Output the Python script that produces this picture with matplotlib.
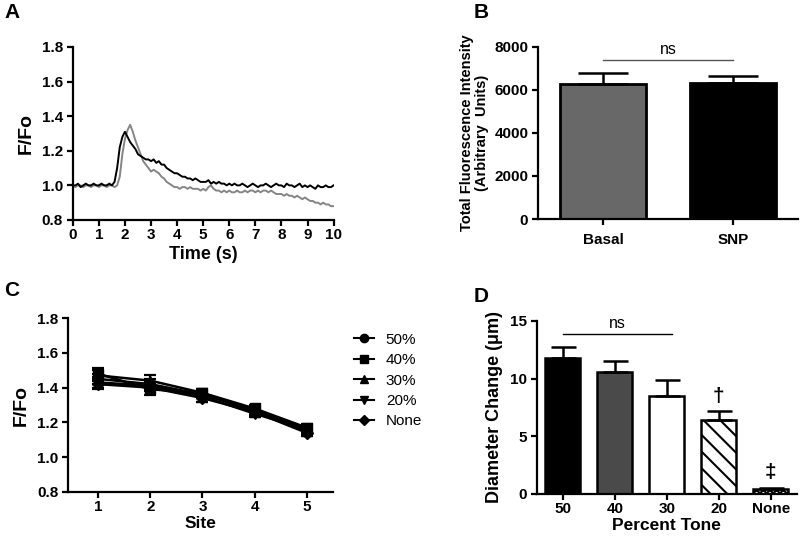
import numpy as np
import matplotlib
matplotlib.use("Agg")
import matplotlib.pyplot as plt
from matplotlib.lines import Line2D

plt.rcParams['font.family'] = ['Liberation Sans', 'DejaVu Sans']
plt.rcParams['hatch.linewidth'] = 1.5

# Panel A: F/Fo traces, 0.1 s steps
time_s = [i / 10 for i in range(101)]
trace_black = [
    1.00, 1.00, 1.01, 0.99, 1.00, 1.01, 1.00, 1.00, 1.01, 1.00,
    1.00, 1.01, 1.00, 1.00, 1.01, 1.00, 1.02, 1.10, 1.22, 1.28,
    1.31, 1.28, 1.25, 1.23, 1.21, 1.18, 1.17, 1.16, 1.15, 1.15,
    1.14, 1.15, 1.13, 1.14, 1.12, 1.12, 1.10, 1.09, 1.08, 1.07,
    1.07, 1.06, 1.05, 1.05, 1.04, 1.04, 1.03, 1.04, 1.03, 1.02,
    1.02, 1.02, 1.03, 1.01, 1.02, 1.01, 1.02, 1.01, 1.01, 1.00,
    1.01, 1.00, 1.01, 1.00, 1.00, 1.01, 1.00, 0.99, 1.00, 1.01,
    1.00, 0.99, 1.00, 1.00, 1.01, 1.00, 0.99, 1.00, 1.01, 1.00,
    1.00, 0.99, 1.01, 1.00, 1.00, 0.99, 1.00, 1.01, 0.99, 1.00,
    0.99, 1.00, 0.99, 0.98, 1.00, 0.99, 0.99, 1.00, 0.99, 0.99,
    1.00]
trace_gray = [
    1.00, 0.99, 1.00, 1.00, 0.99, 1.00, 1.00, 0.99, 1.00, 1.00,
    0.99, 1.00, 1.00, 0.99, 1.00, 1.00, 0.99, 1.00, 1.05, 1.18,
    1.27, 1.32, 1.35, 1.31, 1.26, 1.22, 1.18, 1.14, 1.12, 1.10,
    1.08, 1.09, 1.08, 1.07, 1.05, 1.04, 1.02, 1.01, 1.00, 0.99,
    0.99, 0.98, 0.99, 0.99, 0.98, 0.99, 0.98, 0.98, 0.98, 0.97,
    0.98, 0.97, 0.99, 1.00, 0.98, 0.97, 0.97, 0.96, 0.97, 0.96,
    0.97, 0.96, 0.96, 0.97, 0.96, 0.96, 0.97, 0.96, 0.97, 0.97,
    0.96, 0.97, 0.96, 0.97, 0.97, 0.96, 0.97, 0.96, 0.95, 0.95,
    0.95, 0.94, 0.95, 0.94, 0.94, 0.93, 0.94, 0.93, 0.92, 0.93,
    0.92, 0.91, 0.91, 0.90, 0.90, 0.89, 0.90, 0.89, 0.89, 0.88,
    0.88]

# Panel B
b_groups = ['Basal', 'SNP']
b_means = [6300, 6340]
b_errs = [470, 320]

# Panel C
sites = [1, 2, 3, 4, 5]
c_labels = ['50%', '40%', '30%', '20%', 'None']
c_markers = ['o', 's', '^', 'v', 'D']
c_means = [
    [1.45, 1.42, 1.36, 1.27, 1.16],
    [1.48, 1.39, 1.37, 1.28, 1.17],
    [1.47, 1.44, 1.37, 1.26, 1.15],
    [1.43, 1.41, 1.35, 1.25, 1.16],
    [1.42, 1.40, 1.34, 1.26, 1.14],
]
c_errs = [
    [0.03, 0.03, 0.02, 0.02, 0.02],
    [0.03, 0.03, 0.02, 0.02, 0.02],
    [0.03, 0.03, 0.02, 0.02, 0.02],
    [0.03, 0.02, 0.03, 0.02, 0.02],
    [0.03, 0.02, 0.02, 0.02, 0.02],
]

# Panel D
d_groups = ['50', '40', '30', '20', 'None']
d_means = [11.8, 10.6, 8.5, 6.4, 0.45]
d_errs = [0.9, 0.9, 1.4, 0.8, 0.1]

fig = plt.figure(figsize=(8, 5.36), dpi=100)


def style(ax):
    for s in ['top', 'right']:
        ax.spines[s].set_visible(False)
    for s in ['left', 'bottom']:
        ax.spines[s].set_linewidth(1.6)
    ax.tick_params(width=1.6, length=4, labelsize=11, pad=3)
    ax.tick_params(axis='x', pad=2)
    for lab in ax.get_xticklabels() + ax.get_yticklabels():
        lab.set_fontweight('bold')


# A
axA = fig.add_axes([0.091, 0.5896, 0.326, 0.3228])
axA.plot(time_s, trace_gray, color='#858585', lw=1.4)
axA.plot(time_s, trace_black, color='black', lw=1.4)
axA.set_xlim(0, 10)
axA.set_ylim(0.8, 1.8)
axA.set_xticks(range(11))
axA.set_yticks([0.8, 1.0, 1.2, 1.4, 1.6, 1.8])
axA.set_yticklabels(['0.8', '1.0', '1.2', '1.4', '1.6', '1.8'])
axA.set_xlabel('Time (s)', fontsize=13, fontweight='bold', labelpad=3)
axA.set_ylabel('F/Fo', fontsize=14, fontweight='bold', labelpad=5)
style(axA)

# B
axB = fig.add_axes([0.6725, 0.5914, 0.325, 0.321])
xb = np.arange(len(b_groups))
axB.bar(xb, b_means, width=0.66, color=['#686868', 'black'], edgecolor='black', lw=2)
axB.errorbar(xb, b_means, yerr=[[0, 0], b_errs], fmt='none', ecolor='black',
             elinewidth=1.8, capsize=18, capthick=1.8)
axB.plot([0, 1], [7400, 7400], color='#555555', lw=1)
axB.text(0.5, 7550, 'ns', ha='center', va='bottom', fontsize=11.5)
axB.set_xlim(-0.5, 1.5)
axB.set_ylim(0, 8000)
axB.set_yticks([0, 2000, 4000, 6000, 8000])
axB.set_xticks(xb)
axB.set_xticklabels(b_groups)
axB.set_ylabel('Total Fluorescence Intensity\n(Arbitrary  Units)', fontsize=10.5,
               fontweight='bold', labelpad=4, linespacing=1.1)
style(axB)
axB.tick_params(axis='x', pad=6)

# C
axC = fig.add_axes([0.085, 0.0821, 0.331, 0.3246])
for lab, mk, m, e in zip(c_labels, c_markers, c_means, c_errs):
    axC.errorbar(sites, m, yerr=e, color='black', marker=mk, ms=7 if mk != 'D' else 6,
                 lw=1.8, elinewidth=1.6, capsize=4, capthick=1.6)
axC.set_xlim(0.42, 5.5)
axC.set_ylim(0.8, 1.8)
axC.set_xticks(sites)
axC.set_yticks([0.8, 1.0, 1.2, 1.4, 1.6, 1.8])
axC.set_yticklabels(['0.8', '1.0', '1.2', '1.4', '1.6', '1.8'])
axC.set_xlabel('Site', fontsize=12.5, fontweight='bold', labelpad=1)
axC.set_ylabel('F/Fo', fontsize=14, fontweight='bold', labelpad=5)
style(axC)
handles = [Line2D([], [], color='black', marker=mk, ms=6 if mk != 'D' else 5, lw=1.5)
           for mk in c_markers]
fig.legend(handles, c_labels, loc='upper left', bbox_to_anchor=(0.425, 0.405),
           frameon=False, fontsize=11, handlelength=1.3, labelspacing=0.42,
           handletextpad=0.8)

# D
axD = fig.add_axes([0.671, 0.0784, 0.325, 0.3228])
xd = np.arange(len(d_groups))
d_colors = ['black', '#4a4a4a', 'white', 'white', 'white']
d_hatch = [None, None, None, '\\\\', 'xxxxx']
for x, m, c, h in zip(xd, d_means, d_colors, d_hatch):
    axD.bar(x, m, width=0.68, color=c, edgecolor='black', lw=1.8, hatch=h)
axD.errorbar(xd, d_means, yerr=[[0] * 5, d_errs], fmt='none', ecolor='black',
             elinewidth=1.8, capsize=9, capthick=1.8)
axD.plot([0, 2.1], [13.9, 13.9], color='black', lw=1)
axD.text(1.05, 14.1, 'ns', ha='center', va='bottom', fontsize=11.5)
axD.text(3, 7.6, '\u2020', ha='center', va='bottom', fontsize=15, fontweight='bold')
axD.text(4, 1.0, '\u2021', ha='center', va='bottom', fontsize=15, fontweight='bold')
axD.set_xlim(-0.5, 4.5)
axD.set_ylim(0, 15)
axD.set_yticks([0, 5, 10, 15])
axD.set_xticks(xd)
axD.set_xticklabels(d_groups)
axD.set_xlabel('Percent Tone', fontsize=12.5, fontweight='bold', labelpad=1)
axD.set_ylabel('Diameter Change (\u03bcm)', fontsize=13, fontweight='bold', labelpad=5)
style(axD)

# panel letters
for txt, x, y in [('A', 0.005, 0.995), ('B', 0.592, 0.995),
                  ('C', 0.005, 0.475), ('D', 0.592, 0.465)]:
    fig.text(x, y, txt, fontsize=15, fontweight='bold', va='top', ha='left')

fig.savefig('out.png', dpi=100)
